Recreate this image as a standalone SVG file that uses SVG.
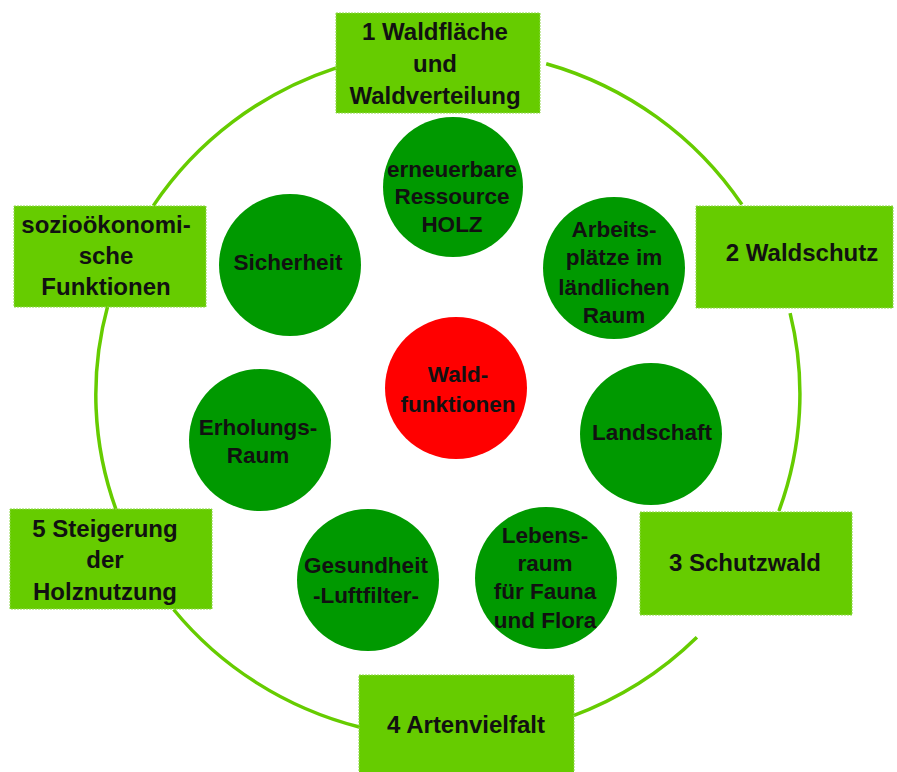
<svg xmlns="http://www.w3.org/2000/svg" width="897" height="772" viewBox="0 0 897 772">
<style>
.box{fill:#66cc00;stroke:#8fd84a;stroke-width:1;stroke-dasharray:2 1}
.c{fill:#009900}
.red{fill:#ff0000}
.arc{fill:none;stroke:#66cc00;stroke-width:3.5}
text{font-family:"Liberation Sans",Arial,sans-serif;font-weight:bold;fill:#111;text-anchor:middle}
.bt{font-size:24px}
.ct{font-size:22.5px}
</style>
<rect width="897" height="772" fill="#ffffff"/>
<g id="connectors">
<path class="arc" d="M546.2,63.7 A352 344 0 0 1 741.9,204.6"/>
<path class="arc" d="M790.1,313.2 A352 344 0 0 1 778.9,511"/>
<path class="arc" d="M696.9,637.2 A352 344 0 0 1 571.5,716.3"/>
<path class="arc" d="M359.3,727 A352 344 0 0 1 173.6,609.5"/>
<path class="arc" d="M116.2,510 A352 344 0 0 1 107.7,306"/>
<path class="arc" d="M153.4,205.6 A352 344 0 0 1 336.3,67.8"/>
</g>
<g id="box1">
<rect class="box" x="336" y="13" width="204" height="100"/>
<text class="bt" x="435" y="40">1 Waldfläche</text>
<text class="bt" x="435" y="72">und</text>
<text class="bt" x="435" y="104">Waldverteilung</text>
</g>
<g id="box2">
<rect class="box" x="696" y="206" width="197" height="102"/>
<text class="bt" x="802" y="261">2 Waldschutz</text>
</g>
<g id="box3">
<rect class="box" x="640" y="512" width="212" height="103"/>
<text class="bt" x="745" y="571">3 Schutzwald</text>
</g>
<g id="box4">
<rect class="box" x="359" y="675" width="215" height="100"/>
<text class="bt" x="466" y="733">4 Artenvielfalt</text>
</g>
<g id="box5">
<rect class="box" x="10" y="509" width="202" height="100"/>
<text class="bt" x="105" y="537">5 Steigerung</text>
<text class="bt" x="105" y="568">der</text>
<text class="bt" x="105" y="600">Holznutzung</text>
</g>
<g id="box6">
<rect class="box" x="14" y="206" width="192" height="101"/>
<text class="bt" x="106" y="233">sozioökonomi-</text>
<text class="bt" x="106" y="264">sche</text>
<text class="bt" x="106" y="295">Funktionen</text>
</g>
<g id="center">
<circle class="red" cx="456" cy="388" r="71"/>
<text class="ct" x="458" y="382">Wald-</text>
<text class="ct" x="458" y="412">funktionen</text>
</g>
<g id="holz">
<circle class="c" cx="453" cy="187" r="70"/>
<text class="ct" x="452" y="177">erneuerbare</text>
<text class="ct" x="452" y="204">Ressource</text>
<text class="ct" x="452" y="232">HOLZ</text>
</g>
<g id="arbeit">
<circle class="c" cx="614" cy="268" r="71"/>
<text class="ct" x="614" y="237">Arbeits-</text>
<text class="ct" x="614" y="265">plätze im</text>
<text class="ct" x="614" y="295">ländlichen</text>
<text class="ct" x="614" y="323">Raum</text>
</g>
<g id="landschaft">
<circle class="c" cx="651" cy="434" r="71"/>
<text class="ct" x="652" y="440">Landschaft</text>
</g>
<g id="lebensraum">
<circle class="c" cx="546" cy="578" r="71"/>
<text class="ct" x="545" y="543">Lebens-</text>
<text class="ct" x="545" y="571">raum</text>
<text class="ct" x="545" y="599">für Fauna</text>
<text class="ct" x="545" y="628">und Flora</text>
</g>
<g id="gesundheit">
<circle class="c" cx="368" cy="580" r="71"/>
<text class="ct" x="366" y="573">Gesundheit</text>
<text class="ct" x="366" y="603">-Luftfilter-</text>
</g>
<g id="erholung">
<circle class="c" cx="260" cy="440" r="71"/>
<text class="ct" x="258" y="435">Erholungs-</text>
<text class="ct" x="258" y="463">Raum</text>
</g>
<g id="sicherheit">
<circle class="c" cx="290" cy="265" r="71"/>
<text class="ct" x="288" y="270">Sicherheit</text>
</g>
</svg>
